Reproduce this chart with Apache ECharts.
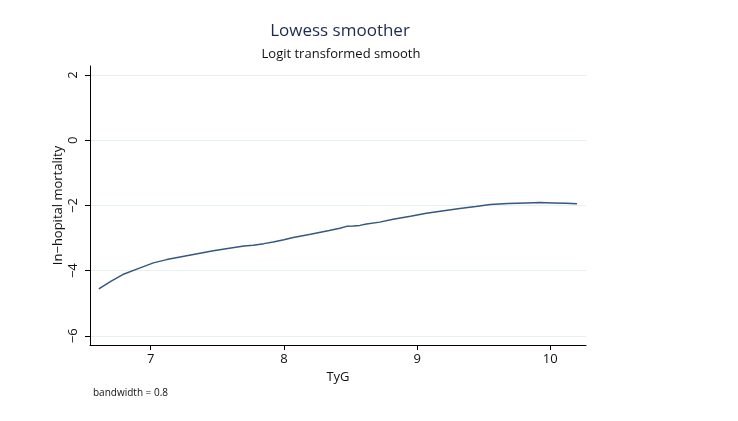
<!DOCTYPE html>
<html>
<head>
<meta charset="utf-8">
<script src="https://cdn.jsdelivr.net/npm/echarts@6/dist/echarts.min.js"></script>
<style>html,body{margin:0;padding:0;background:#fff;}#c{width:738px;height:421px;}</style>
</head>
<body>
<div id="c"></div>
<script>
const tyg = [6.61, 6.70, 6.80, 6.91, 7.02, 7.12, 7.22, 7.35, 7.47, 7.59, 7.70, 7.77, 7.85, 7.92, 8.00, 8.07, 8.20, 8.34, 8.42, 8.47, 8.52, 8.57, 8.62, 8.72, 8.82, 8.95, 9.07, 9.20, 9.32, 9.44, 9.55, 9.68, 9.82, 9.92, 10.02, 10.12, 10.20];
const mortality = [-4.56, -4.33, -4.10, -3.93, -3.76, -3.66, -3.58, -3.48, -3.39, -3.31, -3.24, -3.22, -3.17, -3.12, -3.05, -2.98, -2.88, -2.77, -2.70, -2.64, -2.63, -2.61, -2.57, -2.51, -2.42, -2.33, -2.24, -2.16, -2.09, -2.03, -1.97, -1.94, -1.92, -1.91, -1.92, -1.93, -1.95];
const xTicks = [7, 8, 9, 10];
const yTicks = [-6, -4, -2, 0, 2];
const fontFam = '"Open Sans", "Noto Sans", sans-serif';

const chart = echarts.init(document.getElementById('c'), null, {renderer: 'canvas'});
chart.setOption({
  animation: false,
  backgroundColor: '#ffffff',
  grid: {left: 90, right: 152, top: 66, bottom: 76, containLabel: false},
  graphic: [
    {type: 'text', x: 340, y: 31, style: {text: 'Lowess smoother', fill: '#1c2a4e', font: '17px ' + fontFam, align: 'center', verticalAlign: 'middle'}},
    {type: 'text', x: 341, y: 54, style: {text: 'Logit transformed smooth', fill: '#111111', font: '13px ' + fontFam, align: 'center', verticalAlign: 'middle'}},
    {type: 'text', x: 93, y: 393, style: {text: 'bandwidth = 0.8', fill: '#111111', font: '10px ' + fontFam, align: 'left', verticalAlign: 'middle'}}
  ],
  xAxis: {
    type: 'value', min: 6.544, max: 10.268,
    name: 'TyG', nameLocation: 'middle', nameGap: 26, nameMoveOverlap: false,
    nameTextStyle: {fontSize: 13, color: '#111', fontFamily: fontFam},
    axisLine: {show: true, onZero: false, lineStyle: {color: '#000', width: 1}},
    axisTick: {show: true, length: 5, customValues: xTicks, lineStyle: {color: '#000'}},
    axisLabel: {customValues: xTicks, margin: 8, fontSize: 13, color: '#111', fontFamily: fontFam},
    splitLine: {show: false}
  },
  yAxis: {
    type: 'value', min: -6.28, max: 2.28,
    name: 'In\u2212hopital mortality', nameLocation: 'middle', nameGap: 25, nameRotate: 90, nameMoveOverlap: false,
    nameTextStyle: {fontSize: 13, color: '#111', fontFamily: fontFam},
    axisLine: {show: true, onZero: false, lineStyle: {color: '#000', width: 1}},
    axisTick: {show: true, length: 5, customValues: yTicks, lineStyle: {color: '#000'}},
    axisLabel: {customValues: yTicks, rotate: 90, margin: 10, fontSize: 13, color: '#111', fontFamily: fontFam,
      formatter: v => String(v).replace('-', '\u2212')},
    splitLine: {show: true, lineStyle: {color: '#e6eff2', width: 1}}
  },
  series: [{
    type: 'line',
    data: tyg.map((x, i) => [x, mortality[i]]),
    showSymbol: false,
    smooth: false,
    lineStyle: {color: '#36577f', width: 1.5},
    z: 3
  }]
});
</script>
</body>
</html>
